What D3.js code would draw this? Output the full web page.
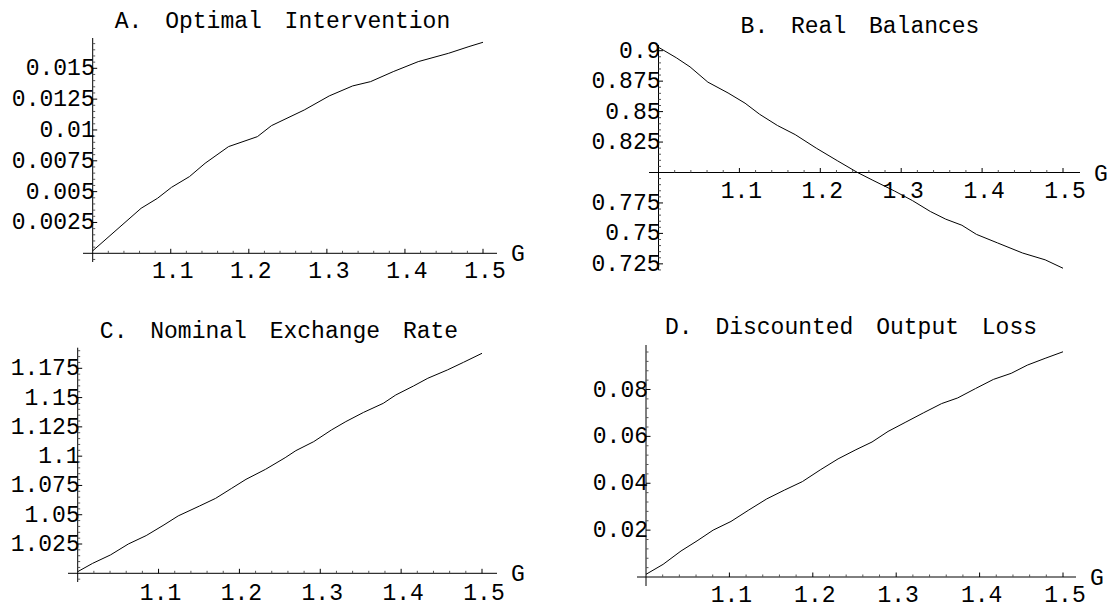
<!DOCTYPE html>
<html>
<head>
<meta charset="utf-8">
<script src="https://cdn.jsdelivr.net/npm/d3@7/dist/d3.min.js"></script>
<style>
  html, body { margin: 0; padding: 0; background: #fff; }
  svg { display: block; }
  text { font-family: 'Liberation Mono', 'Courier New', monospace; fill: #000; }
</style>
</head>
<body>
<svg id="chart" width="1118" height="608"></svg>
<script>
// ---------------- DATA ----------------
const xTicks = [1.1, 1.2, 1.3, 1.4, 1.5];
const xTickLabels = ["1.1", "1.2", "1.3", "1.4", "1.5"];

// A. Optimal Intervention
const gA = [1.0, 1.062, 1.083, 1.101, 1.124, 1.144, 1.174, 1.211, 1.229, 1.271, 1.303, 1.333, 1.356, 1.385, 1.417, 1.456, 1.482, 1.5];
const vA = [0.0002, 0.00365, 0.00446, 0.00535, 0.00622, 0.0073, 0.00865, 0.00946, 0.01035, 0.01162, 0.01276, 0.01357, 0.01392, 0.01473, 0.01554, 0.01622, 0.01676, 0.01711];
const yTicksA = [0.0025, 0.005, 0.0075, 0.01, 0.0125, 0.015];
const yLabelsA = ["0.0025", "0.005", "0.0075", "0.01", "0.0125", "0.015"];

// B. Real Balances
const gB = [1.0, 1.022, 1.039, 1.061, 1.086, 1.107, 1.125, 1.147, 1.169, 1.195, 1.221, 1.246, 1.265, 1.292, 1.314, 1.336, 1.355, 1.375, 1.393, 1.419, 1.45, 1.478, 1.5];
const vB = [0.9028, 0.8942, 0.8867, 0.8742, 0.8653, 0.8569, 0.8478, 0.8386, 0.8311, 0.82, 0.8097, 0.8, 0.7936, 0.7847, 0.7769, 0.768, 0.7617, 0.7567, 0.7492, 0.7422, 0.7339, 0.7283, 0.7214];
const yTicksB = [0.725, 0.75, 0.775, 0.825, 0.85, 0.875, 0.9];
const yLabelsB = ["0.725", "0.75", "0.775", "0.825", "0.85", "0.875", "0.9"];

// C. Nominal Exchange Rate
const gC = [1.0, 1.0185, 1.0406, 1.0626, 1.0847, 1.1067, 1.1243, 1.1508, 1.1706, 1.1905, 1.2081, 1.2324, 1.2566, 1.2698, 1.2919, 1.3139, 1.3316, 1.3536, 1.3779, 1.3933, 1.4153, 1.433, 1.4572, 1.4771, 1.5];
const vC = [1.0014, 1.0085, 1.0157, 1.025, 1.0322, 1.0413, 1.049, 1.0575, 1.064, 1.0726, 1.0802, 1.0888, 1.0987, 1.1047, 1.1124, 1.1224, 1.1295, 1.1374, 1.1451, 1.1522, 1.1599, 1.1665, 1.1736, 1.1801, 1.1878];
const yTicksC = [1.025, 1.05, 1.075, 1.1, 1.125, 1.15, 1.175];
const yLabelsC = ["1.025", "1.05", "1.075", "1.1", "1.125", "1.15", "1.175"];

// D. Discounted Output Loss
const gD = [1.0, 1.0205, 1.042, 1.0612, 1.0805, 1.1019, 1.1233, 1.1447, 1.1661, 1.1875, 1.2089, 1.2303, 1.2517, 1.271, 1.2902, 1.3116, 1.333, 1.3545, 1.3737, 1.3951, 1.4165, 1.4379, 1.4572, 1.4786, 1.5];
const vD = [0.00114, 0.0054, 0.0111, 0.0154, 0.02, 0.0237, 0.0286, 0.0333, 0.0371, 0.0407, 0.0457, 0.0504, 0.0543, 0.0576, 0.0621, 0.0661, 0.0701, 0.074, 0.0764, 0.0804, 0.0843, 0.0869, 0.0904, 0.0933, 0.0961];
const yTicksD = [0.02, 0.04, 0.06, 0.08];
const yLabelsD = ["0.02", "0.04", "0.06", "0.08"];

const titles = ["A. Optimal Intervention", "B. Real Balances", "C. Nominal Exchange Rate", "D. Discounted Output Loss"];
const axisLabel = "G";

// ---------------- LAYOUT ----------------
const panels = [
  { title: titles[0], g: gA, v: vA, yt: yTicksA, yl: yLabelsA,
    xPx: [92.7, 483], yDom: [0, 0.015], yPx: [253.3, 68.3], cross: 0, yMinorStep: 0.0005,
    xAxisPx: [83, 497], yAxisPx: [262, 38], titleX: 282.5, titleY: 28, labY: 25 },
  { title: titles[1], g: gB, v: vB, yt: yTicksB, yl: yLabelsB,
    xPx: [658.5, 1063], yDom: [0.8, 0.9], yPx: [172.5, 50.7], cross: 0.8, yMinorStep: 0.005,
    xAxisPx: [649, 1080], yAxisPx: [270, 45], titleX: 860, titleY: 33, labY: 25 },
  { title: titles[2], g: gC, v: vC, yt: yTicksC, yl: yLabelsC,
    xPx: [77.7, 482], yDom: [1.0, 1.175], yPx: [573.3, 368.3], cross: 1.0, yMinorStep: 0.005,
    xAxisPx: [68, 497], yAxisPx: [582, 347.7], titleX: 279, titleY: 338, labY: 27 },
  { title: titles[3], g: gD, v: vD, yt: yTicksD, yl: yLabelsD,
    xPx: [646, 1063], yDom: [0, 0.08], yPx: [577, 389.5], cross: 0, yMinorStep: 0.004,
    xAxisPx: [637, 1076], yAxisPx: [586, 345], titleX: 851, titleY: 334, labY: 25 }
];

const FS = 23;
const svg = d3.select("#chart");

panels.forEach(p => {
  const x = d3.scaleLinear().domain([1.0, 1.5]).range(p.xPx);
  const y = d3.scaleLinear().domain(p.yDom).range(p.yPx);
  const g = svg.append("g");
  const ax = x(1.0);
  const ay = y(p.cross);

  // title
  g.append("text").attr("x", p.titleX).attr("y", p.titleY)
    .attr("text-anchor", "middle").style("font-size", FS + "px")
    .style("word-spacing", "9px").text(p.title);

  // x axis line
  g.append("line").attr("x1", p.xAxisPx[0]).attr("x2", p.xAxisPx[1])
    .attr("y1", ay).attr("y2", ay).attr("stroke", "#000").attr("stroke-width", 1);
  // y axis line
  g.append("line").attr("x1", ax).attr("x2", ax)
    .attr("y1", p.yAxisPx[0]).attr("y2", p.yAxisPx[1]).attr("stroke", "#000").attr("stroke-width", 1);

  // x minor ticks
  const xMinor = d3.range(1.02, 1.5001, 0.02).filter(v => !xTicks.some(t => Math.abs(t - v) < 1e-6));
  g.selectAll(null).data(xMinor).enter().append("line")
    .attr("x1", d => x(d)).attr("x2", d => x(d))
    .attr("y1", ay).attr("y2", ay - 2.5).attr("stroke", "#555").attr("stroke-width", 1);
  // x major ticks
  g.selectAll(null).data(xTicks).enter().append("line")
    .attr("x1", d => x(d)).attr("x2", d => x(d))
    .attr("y1", ay).attr("y2", ay - 4.5).attr("stroke", "#000").attr("stroke-width", 1);
  // x labels
  g.selectAll(null).data(xTicks).enter().append("text")
    .attr("x", d => x(d) + 2).attr("y", ay + p.labY)
    .attr("text-anchor", "middle").style("font-size", FS + "px")
    .text((d, i) => xTickLabels[i]);
  // G label
  g.append("text").attr("x", p.xAxisPx[1] + 14).attr("y", ay + 8)
    .attr("text-anchor", "start").style("font-size", FS + "px").text(axisLabel);

  // y minor ticks
  const yLo = y.invert(p.yAxisPx[0]), yHi = y.invert(p.yAxisPx[1]);
  const start = Math.ceil(yLo / p.yMinorStep) * p.yMinorStep;
  const yMinor = d3.range(start, yHi, p.yMinorStep)
    .filter(v => Math.abs(v - p.cross) > 1e-9 && !p.yt.some(t => Math.abs(t - v) < 1e-9));
  g.selectAll(null).data(yMinor).enter().append("line")
    .attr("x1", ax).attr("x2", ax + 2.5)
    .attr("y1", d => y(d)).attr("y2", d => y(d)).attr("stroke", "#555").attr("stroke-width", 1);
  // y major ticks
  g.selectAll(null).data(p.yt).enter().append("line")
    .attr("x1", ax).attr("x2", ax + 4.5)
    .attr("y1", d => y(d)).attr("y2", d => y(d)).attr("stroke", "#000").attr("stroke-width", 1);
  // y labels
  g.selectAll(null).data(p.yt).enter().append("text")
    .attr("x", ax + 2).attr("y", d => y(d) + 7)
    .attr("text-anchor", "end").style("font-size", FS + "px")
    .text((d, i) => p.yl[i]);

  // curve
  const pts = p.g.map((gv, i) => [gv, p.v[i]]);
  g.append("path").datum(pts)
    .attr("fill", "none").attr("stroke", "#000").attr("stroke-width", 1)
    .attr("d", d3.line().x(d => x(d[0])).y(d => y(d[1])));
});
</script>
</body>
</html>
